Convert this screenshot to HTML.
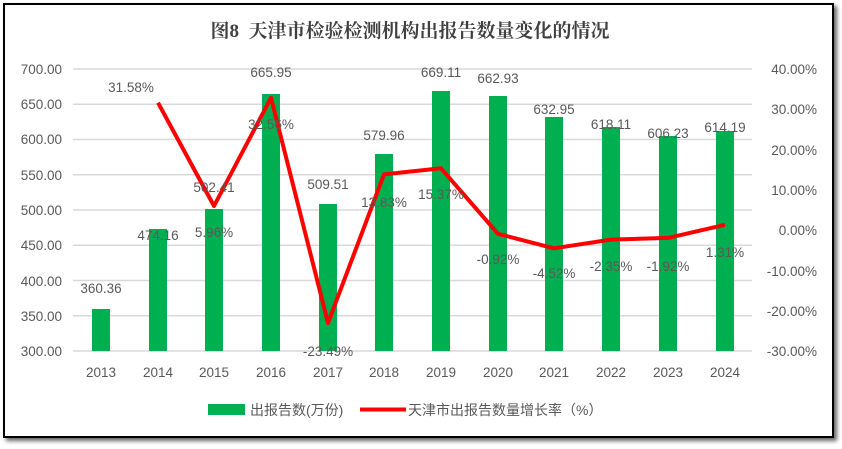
<!DOCTYPE html>
<html><head><meta charset="utf-8"><style>
body{margin:0;width:842px;height:449px;background:#fff;overflow:hidden}
#box{position:absolute;left:3px;top:3px;width:827px;height:431px;border:2px solid #000;box-shadow:3px 3px 4px #666;background:#fff}
svg{position:absolute;left:0;top:0}
text{font-family:"Liberation Sans","Noto Sans CJK SC",sans-serif;font-size:13.5px;fill:#595959}
</style></head><body><div id="box"></div>
<svg width="842" height="449" viewBox="0 0 842 449">
<text x="410" y="37" text-anchor="middle" style="font-size:19px;font-weight:bold;fill:#404040;font-family:'Liberation Serif','Noto Serif CJK SC',serif">图8&#160;&#160;天津市检验检测机构出报告数量变化的情况</text>
<g stroke="#d9d9d9" stroke-width="1.5">
<line x1="73" x2="752" y1="69" y2="69"/><line x1="73" x2="752" y1="104.25" y2="104.25"/><line x1="73" x2="752" y1="139.5" y2="139.5"/><line x1="73" x2="752" y1="174.75" y2="174.75"/><line x1="73" x2="752" y1="210" y2="210"/><line x1="73" x2="752" y1="245.25" y2="245.25"/><line x1="73" x2="752" y1="280.5" y2="280.5"/><line x1="73" x2="752" y1="315.75" y2="315.75"/><line x1="73" x2="752" y1="351" y2="351"/>
</g>
<g text-anchor="end">
<text x="62" y="74">700.00</text><text x="62" y="109">650.00</text><text x="62" y="144">600.00</text><text x="62" y="180">550.00</text><text x="62" y="215">500.00</text><text x="62" y="250">450.00</text><text x="62" y="286">400.00</text><text x="62" y="321">350.00</text><text x="62" y="356">300.00</text>
</g>
<g text-anchor="end">
<text x="817" y="74">40.00%</text><text x="817" y="114">30.00%</text><text x="817" y="155">20.00%</text><text x="817" y="195">10.00%</text><text x="817" y="235">0.00%</text><text x="817" y="276">-10.00%</text><text x="817" y="316">-20.00%</text><text x="817" y="356">-30.00%</text>
</g>
<g fill="#00b050">
<rect x="92" y="309" width="18" height="42"/>
<rect x="149" y="229" width="18" height="122"/>
<rect x="205" y="209" width="18" height="142"/>
<rect x="262" y="94" width="18" height="257"/>
<rect x="319" y="204" width="18" height="147"/>
<rect x="375" y="154" width="18" height="197"/>
<rect x="432" y="91" width="18" height="260"/>
<rect x="489" y="96" width="18" height="255"/>
<rect x="545" y="117" width="18" height="234"/>
<rect x="602" y="127" width="18" height="224"/>
<rect x="659" y="136" width="18" height="215"/>
<rect x="716" y="131" width="18" height="220"/>
</g>
<polyline fill="none" stroke="#ff0000" stroke-width="4" stroke-linejoin="round" points="158,102.7 214,206 271,97.8 328,323 384,174.4 441,168.3 498,233.8 554,248.3 611,239.6 668,237.9 725,224.8"/>
<g text-anchor="middle">
<text x="101" y="377">2013</text><text x="158" y="377">2014</text><text x="214" y="377">2015</text><text x="271" y="377">2016</text><text x="328" y="377">2017</text><text x="384" y="377">2018</text><text x="441" y="377">2019</text><text x="498" y="377">2020</text><text x="554" y="377">2021</text><text x="611" y="377">2022</text><text x="668" y="377">2023</text><text x="725" y="377">2024</text>
<text x="101" y="293">360.36</text><text x="158" y="240">474.16</text><text x="214" y="192">502.41</text><text x="271" y="77">665.95</text><text x="328" y="189">509.51</text><text x="384" y="140">579.96</text><text x="441" y="77">669.11</text><text x="498" y="83">662.93</text><text x="554" y="114">632.95</text><text x="611" y="129">618.11</text><text x="668" y="138">606.23</text><text x="725" y="132">614.19</text>
<text x="131" y="92">31.58%</text><text x="214" y="237">5.96%</text><text x="271" y="129">32.56%</text><text x="328" y="356">-23.49%</text><text x="384" y="207">13.83%</text><text x="441" y="199">15.37%</text><text x="498" y="264">-0.92%</text><text x="554" y="278">-4.52%</text><text x="611" y="271">-2.35%</text><text x="668" y="271">-1.92%</text><text x="725" y="257">1.31%</text>
</g>
<rect x="208" y="404" width="37" height="11" fill="#00b050"/>
<text x="250" y="415" style="font-size:14px">出报告数(万份)</text>
<line x1="360" x2="406" y1="409.5" y2="409.5" stroke="#ff0000" stroke-width="4"/>
<text x="408" y="415" style="font-size:14px">天津市出报告数量增长率（%）</text>
</svg></body></html>
